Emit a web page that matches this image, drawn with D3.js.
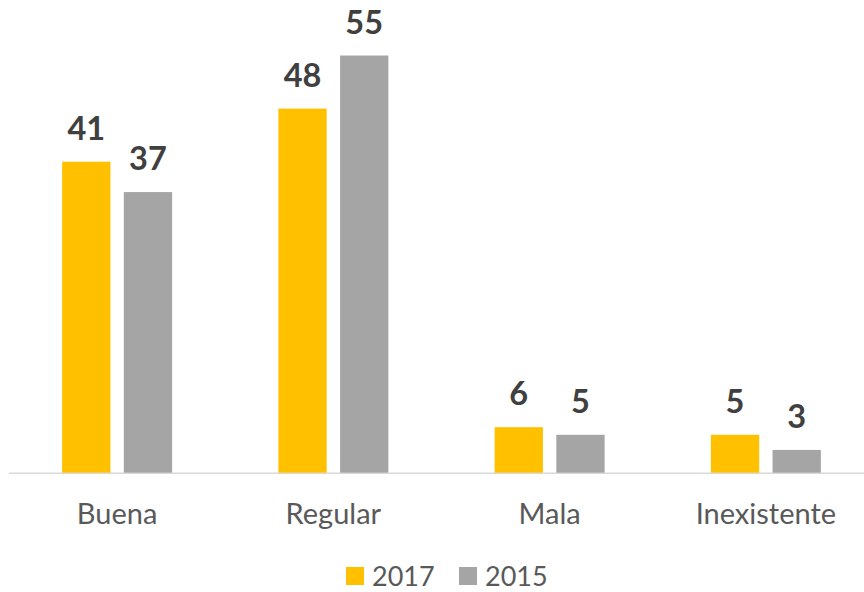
<!DOCTYPE html>
<html>
<head>
<meta charset="utf-8">
<script src="https://cdn.jsdelivr.net/npm/d3@7"></script>
<style>
  body { margin: 0; background: #fff; }
  svg { display: block; font-family: Lato, "Open Sans", sans-serif; }
</style>
</head>
<body>
<div id="chart"></div>
<script>
// chart data
const categories = ["Buena", "Regular", "Mala", "Inexistente"];
const series = ["2017", "2015"];
const values2017 = [41, 48, 6, 5];
const values2015 = [37, 55, 5, 3];
const colors = ["#ffc000", "#a5a5a5"];

const width = 864, height = 592;

const svg = d3.select("#chart").append("svg")
  .attr("width", width)
  .attr("height", height);

const x0 = d3.scaleBand()
  .domain(categories)
  .range([9, 874]); // plot area runs a bit past the right edge

const y = d3.scaleLinear()
  .domain([0, 60])
  .range([472.7, 17.6]);

const groupW = 110;
const x1 = d3.scaleBand()
  .domain(series)
  .range([0, groupW])
  .paddingInner(0.217);

const rows = categories.map((c, i) => ({
  cat: c,
  vals: [values2017[i], values2015[i]]
}));

// baseline
svg.append("line")
  .attr("x1", 9)
  .attr("x2", width)
  .attr("y1", y(0) + 0.5)
  .attr("y2", y(0) + 0.5)
  .attr("stroke", "#d9d9d9")
  .attr("stroke-width", 1.5);

const groups = svg.selectAll("g.grp")
  .data(rows)
  .join("g")
  .attr("class", "grp")
  .attr("transform", d => `translate(${x0(d.cat) + x0.bandwidth() / 2 - groupW / 2},0)`);

groups.selectAll("rect")
  .data(d => d.vals.map((v, j) => ({ s: series[j], v: v, c: colors[j] })))
  .join("rect")
  .attr("x", d => x1(d.s))
  .attr("width", x1.bandwidth())
  .attr("y", d => y(d.v))
  .attr("height", d => y(0) - y(d.v))
  .attr("fill", d => d.c);

// value labels
groups.selectAll("text.val")
  .data(d => d.vals.map((v, j) => ({ s: series[j], v: v })))
  .join("text")
  .attr("class", "val")
  .attr("x", d => x1(d.s) + x1.bandwidth() / 2)
  .attr("y", d => y(d.v) - 22)
  .attr("text-anchor", "middle")
  .attr("font-size", 32.5)
  .attr("font-weight", "bold")
  .attr("fill", "#404040")
  .text(d => d.v);

// category labels
svg.selectAll("text.cat")
  .data(categories)
  .join("text")
  .attr("class", "cat")
  .attr("x", d => x0(d) + x0.bandwidth() / 2)
  .attr("y", 524)
  .attr("text-anchor", "middle")
  .attr("font-size", 29)
  .attr("fill", "#595959")
  .text(d => d);

// legend
const legendX = [346, 459];
const legend = svg.selectAll("g.leg")
  .data(series)
  .join("g")
  .attr("class", "leg")
  .attr("transform", (d, i) => `translate(${legendX[i]},567)`);

legend.append("rect")
  .attr("width", 18)
  .attr("height", 18)
  .attr("fill", (d, i) => colors[i]);

legend.append("text")
  .attr("x", 26)
  .attr("y", 19)
  .attr("font-size", 27)
  .attr("fill", "#595959")
  .text(d => d);
</script>
</body>
</html>
